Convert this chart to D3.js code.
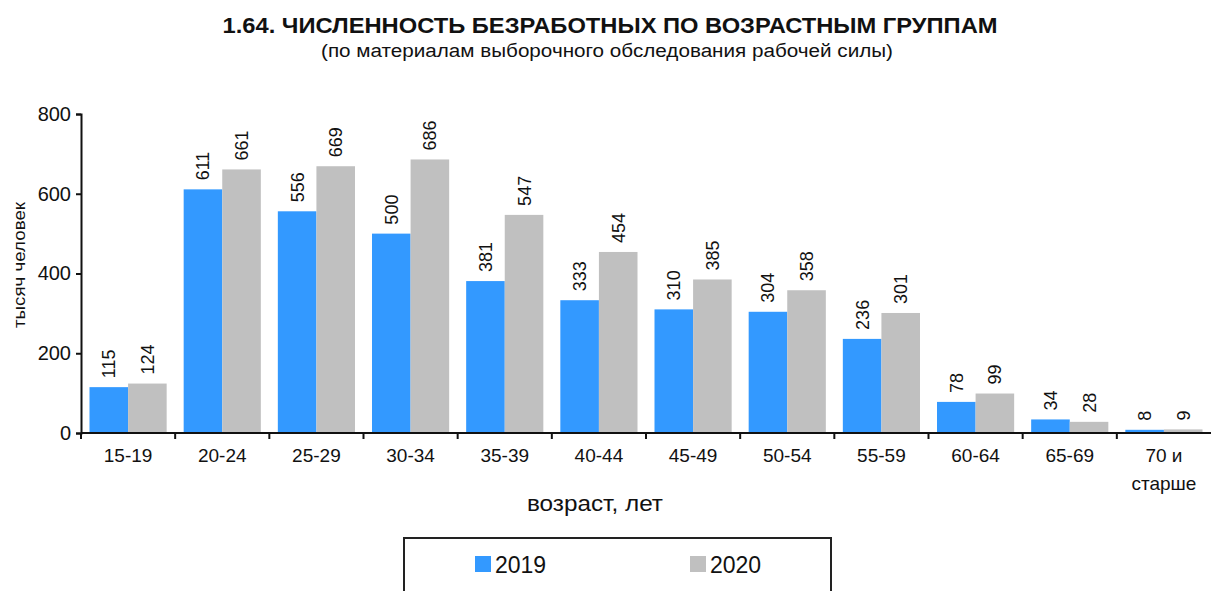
<!DOCTYPE html>
<html>
<head>
<meta charset="utf-8">
<script src="https://cdn.jsdelivr.net/npm/d3@7"></script>
<style>
  body { margin: 0; background: #fff; }
  text { font-family: "Liberation Sans", Arial, sans-serif; fill: #111; }
</style>
</head>
<body>
<svg width="1211" height="591"></svg>
<script>
const width = 1211;
const height = 591;

const categories = ["15-19", "20-24", "25-29", "30-34", "35-39", "40-44", "45-49", "50-54", "55-59", "60-64", "65-69", "70 и старше"];
const series = ["2019", "2020"];
const values2019 = [115, 611, 556, 500, 381, 333, 310, 304, 236, 78, 34, 8];
const values2020 = [124, 661, 669, 686, 547, 454, 385, 358, 301, 99, 28, 9];
const yTicks = [0, 200, 400, 600, 800];
const colors = ["#3399ff", "#c0c0c0"];

const svg = d3.select("svg");

const x0 = 81, x1 = 1211;
const yTop = 114, yBottom = 433;

const x = d3.scaleBand().domain(categories).range([x0, x1]).paddingInner(0).paddingOuter(0);
const xs = d3.scaleBand().domain(series).range([8.5, x.bandwidth() - 8.5]);
const y = d3.scaleLinear().domain([0, 800]).range([yBottom, yTop]);

// title
svg.append("text")
  .attr("x", 610).attr("y", 33)
  .attr("text-anchor", "middle")
  .attr("textLength", 775)
  .attr("lengthAdjust", "spacingAndGlyphs")
  .style("font-weight", "bold")
  .style("font-size", "22px")
  .text("1.64. ЧИСЛЕННОСТЬ БЕЗРАБОТНЫХ ПО ВОЗРАСТНЫМ ГРУППАМ");

svg.append("text")
  .attr("x", 607).attr("y", 57)
  .attr("text-anchor", "middle")
  .attr("textLength", 572)
  .attr("lengthAdjust", "spacingAndGlyphs")
  .style("font-size", "18px")
  .text("(по материалам выборочного обследования рабочей силы)");

// bars
const rows = categories.map((c, i) => ({ cat: c, vals: [values2019[i], values2020[i]] }));

const groups = svg.append("g")
  .selectAll("g")
  .data(rows)
  .join("g")
  .attr("transform", (d) => `translate(${x(d.cat)},0)`);

groups.selectAll("rect")
  .data((d) => d.vals.map((v, j) => ({ s: series[j], v, j })))
  .join("rect")
  .attr("x", (d) => xs(d.s))
  .attr("y", (d) => y(d.v))
  .attr("width", xs.bandwidth())
  .attr("height", (d) => y(0) - y(d.v))
  .attr("fill", (d) => colors[d.j]);

groups.selectAll("text.val")
  .data((d) => d.vals.map((v, j) => ({ s: series[j], v, j })))
  .join("text")
  .attr("class", "val")
  .attr("transform", (d) => `translate(${xs(d.s) + xs.bandwidth() / 2 + 6.5},${y(d.v) - 9}) rotate(-90)`)
  .style("font-size", "18px")
  .text((d) => d.v);

// y axis
const yAxis = svg.append("g")
  .attr("transform", `translate(${x0},0)`)
  .call(d3.axisLeft(y).tickValues(yTicks).tickSize(5).tickPadding(5));
yAxis.select(".domain").attr("stroke", "#111").attr("stroke-width", 2);
yAxis.selectAll(".tick line").attr("stroke", "#111").attr("stroke-width", 2);
yAxis.selectAll(".tick text")
  .style("font-size", "20px")
  .style("font-family", "'Liberation Sans', Arial, sans-serif")
  .attr("fill", "#111");

// x axis
const xAxisG = svg.append("g").attr("transform", `translate(0,${yBottom})`);
xAxisG.append("line")
  .attr("x1", x0).attr("x2", x1)
  .attr("stroke", "#111").attr("stroke-width", 2);
xAxisG.selectAll("line.tick")
  .data(categories)
  .join("line")
  .attr("class", "tick")
  .attr("x1", (d) => x(d)).attr("x2", (d) => x(d))
  .attr("y1", 0).attr("y2", 6)
  .attr("stroke", "#111").attr("stroke-width", 2);

xAxisG.selectAll("text.xl")
  .data(categories)
  .join("text")
  .attr("class", "xl")
  .attr("text-anchor", "middle")
  .attr("x", (d) => x(d) + x.bandwidth() / 2)
  .attr("y", 29)
  .style("font-size", "19px")
  .each(function (d) {
    const t = d3.select(this);
    const parts = d === "70 и старше" ? ["70 и", "старше"] : [d];
    parts.forEach((p, k) => {
      t.append("tspan")
        .attr("x", x(d) + x.bandwidth() / 2)
        .attr("dy", k === 0 ? 0 : 28)
        .text(p);
    });
  });

// axis titles
svg.append("text")
  .attr("x", 595).attr("y", 511)
  .attr("text-anchor", "middle")
  .attr("textLength", 136)
  .attr("lengthAdjust", "spacingAndGlyphs")
  .style("font-size", "22px")
  .text("возраст, лет");

svg.append("text")
  .attr("transform", "translate(25,265) rotate(-90)")
  .attr("text-anchor", "middle")
  .attr("textLength", 126)
  .attr("lengthAdjust", "spacingAndGlyphs")
  .style("font-size", "17px")
  .text("тысяч человек");

// legend
const legend = svg.append("g");
legend.append("rect")
  .attr("x", 404).attr("y", 538)
  .attr("width", 427).attr("height", 70)
  .attr("fill", "none")
  .attr("stroke", "#222")
  .attr("stroke-width", 2);

const legendX = [475, 690];
series.forEach((s, i) => {
  legend.append("rect")
    .attr("x", legendX[i]).attr("y", 556)
    .attr("width", 16).attr("height", 16)
    .attr("fill", colors[i]);
  legend.append("text")
    .attr("x", legendX[i] + 20).attr("y", 573)
    .style("font-size", "23px")
    .text(s);
});
</script>
</body>
</html>
